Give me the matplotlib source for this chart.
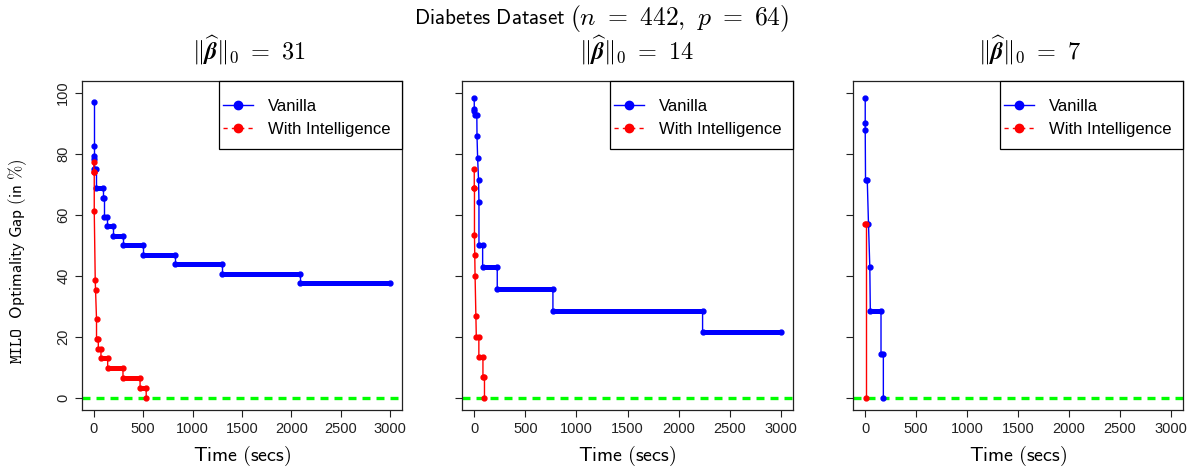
import numpy as np
import matplotlib.pyplot as plt
from matplotlib.lines import Line2D
from matplotlib.patches import Rectangle

plt.rcParams['mathtext.fontset'] = 'cm'
plt.rcParams['font.family'] = ['Liberation Sans', 'DejaVu Sans']

# support size of each panel
supports = [31, 14, 7]

# Vanilla runs: time (secs) and MILO optimality gap (%)
van31_t = [0, 0, 0, 0, 0, 24, 24, 94, 94, 101, 101, 135, 135, 190, 190, 300, 300, 495, 495,
           824, 824, 1302, 1302, 2086, 2086, 3000]
van31_gap = [97.0, 82.6, 79.3, 78.4, 75.0, 75.0, 68.75, 68.75, 65.6, 65.6, 59.4, 59.4, 56.25, 56.25,
             53.1, 53.1, 50.0, 50.0, 46.9, 46.9, 43.75, 43.75, 40.6, 40.6, 37.5, 37.5]
van14_t = [0, 0, 2, 4, 25, 27, 33, 42, 46, 46, 82, 82, 225, 225, 770, 770, 2235, 2235, 3000]
van14_gap = [98.4, 94.6, 94.1, 92.9, 92.9, 85.7, 78.6, 71.4, 64.3, 50.0, 50.0, 42.86, 42.86,
             35.7, 35.7, 28.57, 28.57, 21.43, 21.43]
van7_t = [0, 0, 0, 3, 20, 32, 45, 50, 155, 155, 178, 178]
van7_gap = [98.4, 90.0, 87.8, 71.4, 71.4, 57.1, 42.9, 28.6, 28.6, 14.3, 14.3, 0.0]

# With Intelligence runs
int31_t = [0, 0, 4, 4, 14, 17, 27, 27, 45, 45, 72, 72, 140, 140, 295, 295, 468, 468, 530, 530]
int31_gap = [77.4, 74.2, 74.2, 61.3, 38.7, 35.5, 25.8, 19.35, 19.35, 16.1, 16.1, 12.9, 12.9,
             9.68, 9.68, 6.45, 6.45, 3.23, 3.23, 0.0]
int14_t = [0, 0, 2, 2, 5, 8, 16, 20, 45, 45, 85, 85, 100, 100]
int14_gap = [75.0, 68.8, 68.8, 53.3, 46.7, 40.0, 26.7, 20.0, 20.0, 13.3, 13.3, 6.67, 6.67, 0.0]
int7_t = [0, 5, 5]
int7_gap = [57.1, 57.1, 0.0]

vanilla = [(van31_t, van31_gap), (van14_t, van14_gap), (van7_t, van7_gap)]
intel = [(int31_t, int31_gap), (int14_t, int14_gap), (int7_t, int7_gap)]


def draw(ax, t, gap, color):
    t = np.array(t, dtype=float)
    gap = np.array(gap, dtype=float)
    ax.plot(t, gap, color=color, lw=1, marker='o', ms=3.5, zorder=3)
    # plateaus are covered by many logged points -> thick band
    flat = (np.diff(gap) == 0) & (np.diff(t) > 0)
    for i in np.where(flat)[0]:
        ax.plot(t[i:i + 2], gap[i:i + 2], color=color, lw=3.6,
                solid_capstyle='round', zorder=3)


fig = plt.figure(figsize=(11.89, 4.68), dpi=100)
W, H = 1189, 468
top, bottom = 80.7, 410
boxes = [(82, 320), (462, 331), (853, 330)]
title_x = [249, 636, 1030]
leg_w, leg_h = 183, 68

for k in range(3):
    left, width = boxes[k]
    ah = bottom - top
    ax = fig.add_axes([left / W, 1 - bottom / H, width / W, ah / H])
    ax.axhline(0, color='#00ff00', lw=2.4, dashes=(2.4, 1.8), zorder=2)
    draw(ax, *vanilla[k], 'blue')
    draw(ax, *intel[k], 'red')

    ax.set_xlim(-120, 3120)
    ax.set_ylim(-4, 104)
    ax.set_xticks(range(0, 3001, 500))
    ax.set_yticks(range(0, 101, 20))
    ax.tick_params(direction='out', length=5, width=0.8, labelsize=10.5, colors='#222222')
    if k == 0:
        for lab in ax.get_yticklabels():
            lab.set_rotation(90)
            lab.set_va('center')
    else:
        ax.set_yticklabels([])
    for sp in ax.spines.values():
        sp.set_linewidth(0.9)
        sp.set_color('#222222')
    ax.set_xlabel(r'$\mathsf{Time\ (secs)}$', fontsize=14.5, labelpad=6)

    # legend box drawn by hand so its padding matches
    ax.add_patch(Rectangle((1 - leg_w / width, 1 - leg_h / ah), leg_w / width, leg_h / ah,
                           transform=ax.transAxes, facecolor='white', edgecolor='black',
                           lw=0.9, zorder=4, clip_on=False))
    handles = [Line2D([], [], color='blue', lw=1, marker='o', ms=6),
               Line2D([], [], color='red', lw=1, ls=(0, (3, 3)), marker='o', ms=6)]
    ax.legend(handles, ['Vanilla', 'With Intelligence'], loc='upper left',
              bbox_to_anchor=(1 - (leg_w - 4) / width, 1 - 18 / ah),
              borderaxespad=0, borderpad=0, frameon=False,
              fontsize=12, handlelength=1.8, handletextpad=0.9, labelspacing=0.48)

    fig.text(title_x[k] / W, 1 - 50 / H,
             r'$\|\widehat{\boldsymbol{\beta}}\|_0\ =\ %d$' % supports[k],
             ha='center', va='center', fontsize=17.5)

fig.text(565 / W, 1 - 18 / H, r'$\mathsf{Diabetes\ Dataset}$',
         ha='right', va='center', fontsize=15.2)
fig.text(570 / W, 1 - 18 / H, r'$(n\ =\ 442,\ p\ =\ 64)$',
         ha='left', va='center', fontsize=18.5)
fig.text(18 / W, 1 - 261 / H, r'$\mathtt{MILO}\ \ \mathsf{Optimality\ Gap\ (in\ \%)}$',
         ha='center', va='center', rotation=90, fontsize=12.3)

fig.savefig('out.png', dpi=100)
